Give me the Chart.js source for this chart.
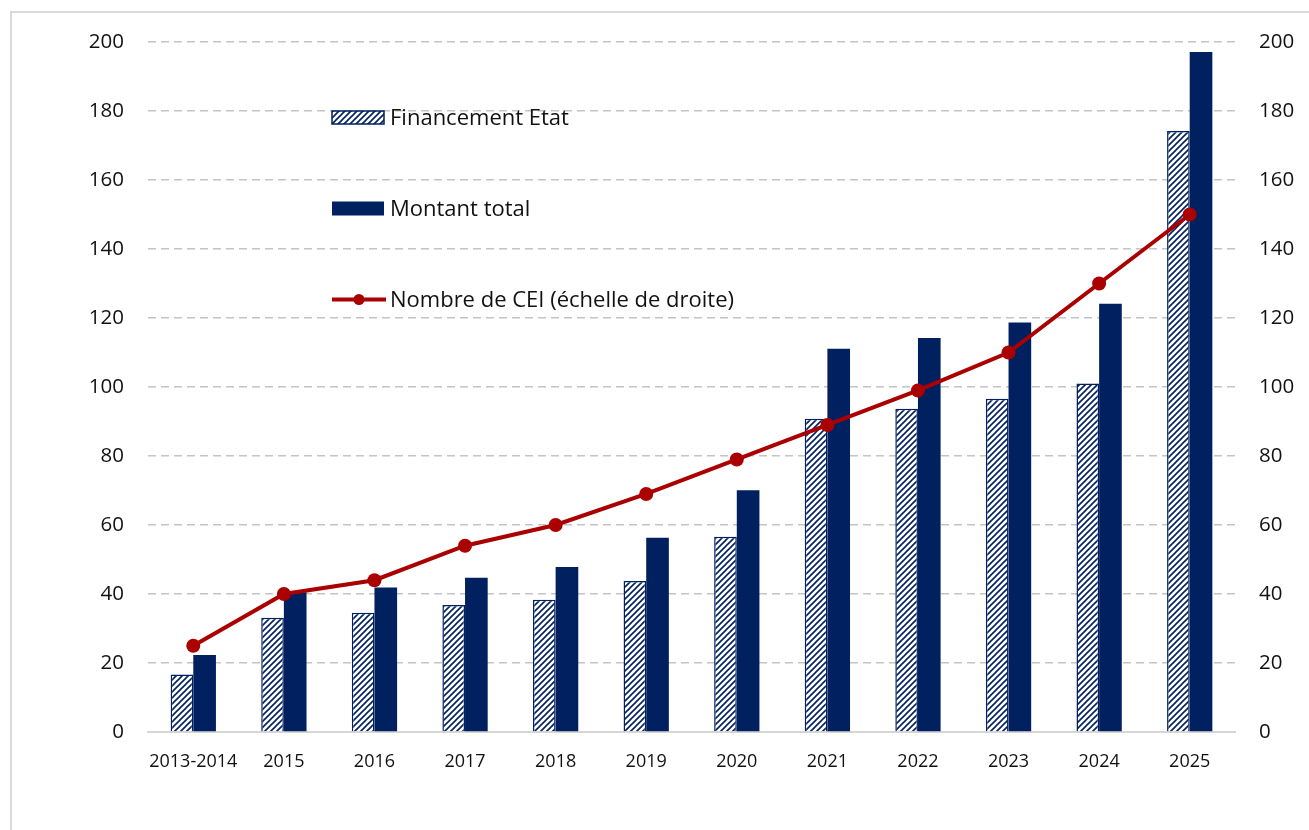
<!DOCTYPE html>
<html>
<head>
<meta charset="utf-8">
<script src="https://cdn.jsdelivr.net/npm/chart.js@4/dist/chart.umd.min.js"></script>
<style>
  html, body { margin: 0; padding: 0; background: #fff; }
  #wrap { position: relative; width: 1309px; height: 830px; }
  #frame { position: absolute; left: 10px; top: 11px; right: 0; bottom: 0;
           border-left: 2px solid #DADADA; border-top: 2px solid #DADADA; pointer-events: none; }
  canvas { position: absolute; left: 0; top: 0; }
</style>
</head>
<body>
<div id="wrap">
  <canvas id="c" width="1309" height="830"></canvas>
  <div id="frame"></div>
</div>
<script>
const categories = ['2013-2014','2015','2016','2017','2018','2019','2020','2021','2022','2023','2024','2025'];
const financementEtat = [16.7, 33.1, 34.6, 36.8, 38.3, 43.8, 56.6, 90.8, 93.7, 96.6, 101.0, 174.2];
const montantTotal = [22.3, 40.5, 41.9, 44.7, 47.8, 56.3, 70.1, 111.1, 114.2, 118.7, 124.1, 197.1];
const nombreCEI = [25, 40, 44, 54, 60, 69, 79, 89, 99, 110, 130, 150];
const seriesLabels = ['Financement Etat', 'Montant total', 'Nombre de CEI (échelle de droite)'];
const axisMin = 0, axisMax = 200, axisStep = 20;

const NAVY = '#002060';
const RED = '#AA0000';
const FONT = "'Open Sans', 'Noto Sans', sans-serif";

function makeHatch() {
  const s = 6;
  const p = document.createElement('canvas');
  p.width = s; p.height = s;
  const g = p.getContext('2d');
  g.fillStyle = '#fff';
  g.fillRect(0, 0, s, s);
  g.strokeStyle = NAVY;
  g.lineWidth = 1.6;
  g.beginPath();
  g.moveTo(-1, s + 1); g.lineTo(s + 1, -1);
  g.moveTo(-1, 1); g.lineTo(1, -1);
  g.moveTo(s - 1, s + 1); g.lineTo(s + 1, s - 1);
  g.stroke();
  return g.createPattern(p, 'repeat');
}
const ctx = document.getElementById('c').getContext('2d');
const hatch = makeHatch();

const innerLegend = {
  id: 'innerLegend',
  afterDatasetsDraw(chart) {
    const c = chart.ctx;
    const x0 = 332, boxW = 52, boxH = 13, textX = 390;
    const ys = [117.5, 208.5, 299.5];
    const ds = chart.data.datasets;
    c.save();
    c.font = "22px " + FONT;
    c.textBaseline = 'middle';
    // item 1: hatched
    c.fillStyle = hatch;
    c.fillRect(x0, ys[0] - boxH / 2, boxW, boxH);
    c.strokeStyle = NAVY; c.lineWidth = 1.5;
    c.strokeRect(x0, ys[0] - boxH / 2, boxW, boxH);
    // item 2: solid
    c.fillStyle = NAVY;
    c.fillRect(x0, ys[1] - 7, boxW, 14);
    // item 3: line + marker
    c.strokeStyle = RED; c.lineWidth = 4;
    c.beginPath(); c.moveTo(x0, ys[2]); c.lineTo(x0 + 54, ys[2]); c.stroke();
    c.fillStyle = RED;
    c.beginPath(); c.arc(x0 + 27, ys[2], 5.5, 0, Math.PI * 2); c.fill();
    c.fillStyle = '#111';
    for (let i = 0; i < 3; i++) c.fillText(ds[i].label, textX, ys[i] + 1);
    c.restore();
  }
};

new Chart(ctx, {
  data: {
    labels: categories,
    datasets: [
      { type: 'bar', label: seriesLabels[0], data: financementEtat, yAxisID: 'y',
        backgroundColor: hatch, borderColor: NAVY, borderWidth: 1.5, order: 2,
        categoryPercentage: 0.5, barPercentage: 1.0 },
      { type: 'bar', label: seriesLabels[1], data: montantTotal, yAxisID: 'y',
        backgroundColor: NAVY, borderColor: NAVY, borderWidth: 0, order: 2,
        categoryPercentage: 0.5, barPercentage: 1.0 },
      { type: 'line', label: seriesLabels[2], data: nombreCEI, yAxisID: 'y2',
        borderColor: RED, backgroundColor: RED, borderWidth: 4, pointRadius: 7,
        pointHoverRadius: 7, pointBackgroundColor: RED, pointBorderWidth: 0,
        tension: 0, order: 0 }
    ]
  },
  options: {
    responsive: false,
    animation: false,
    devicePixelRatio: 1,
    layout: { padding: { top: 42, left: 0, right: 0, bottom: 0 } },
    plugins: { legend: { display: false }, tooltip: { enabled: false } },
    scales: {
      x: {
        grid: { display: false, drawTicks: false },
        border: { display: true, color: '#D6D6D6', width: 2 },
        ticks: { color: '#111', font: { family: FONT, size: 18 }, padding: 19, maxRotation: 0, autoSkip: false },
        afterFit(s) { s.height = 98; }
      },
      y: {
        position: 'left', min: axisMin, max: axisMax,
        ticks: { stepSize: axisStep, color: '#111', font: { family: FONT, size: 20.5 }, padding: 24 },
        grid: { drawTicks: false, lineWidth: 1.5,
                color: (c) => c.tick && c.tick.value === 0 ? 'rgba(0,0,0,0)' : '#C4C4C4' },
        border: { display: false, dash: [8, 5] },
        afterFit(s) { s.width = 148; }
      },
      y2: {
        position: 'right', min: axisMin, max: axisMax,
        ticks: { stepSize: axisStep, color: '#111', font: { family: FONT, size: 20.5 }, padding: 24 },
        grid: { display: false, drawTicks: false },
        border: { display: false },
        afterFit(s) { s.width = 74; }
      }
    }
  },
  plugins: [innerLegend]
});
</script>
</body>
</html>
